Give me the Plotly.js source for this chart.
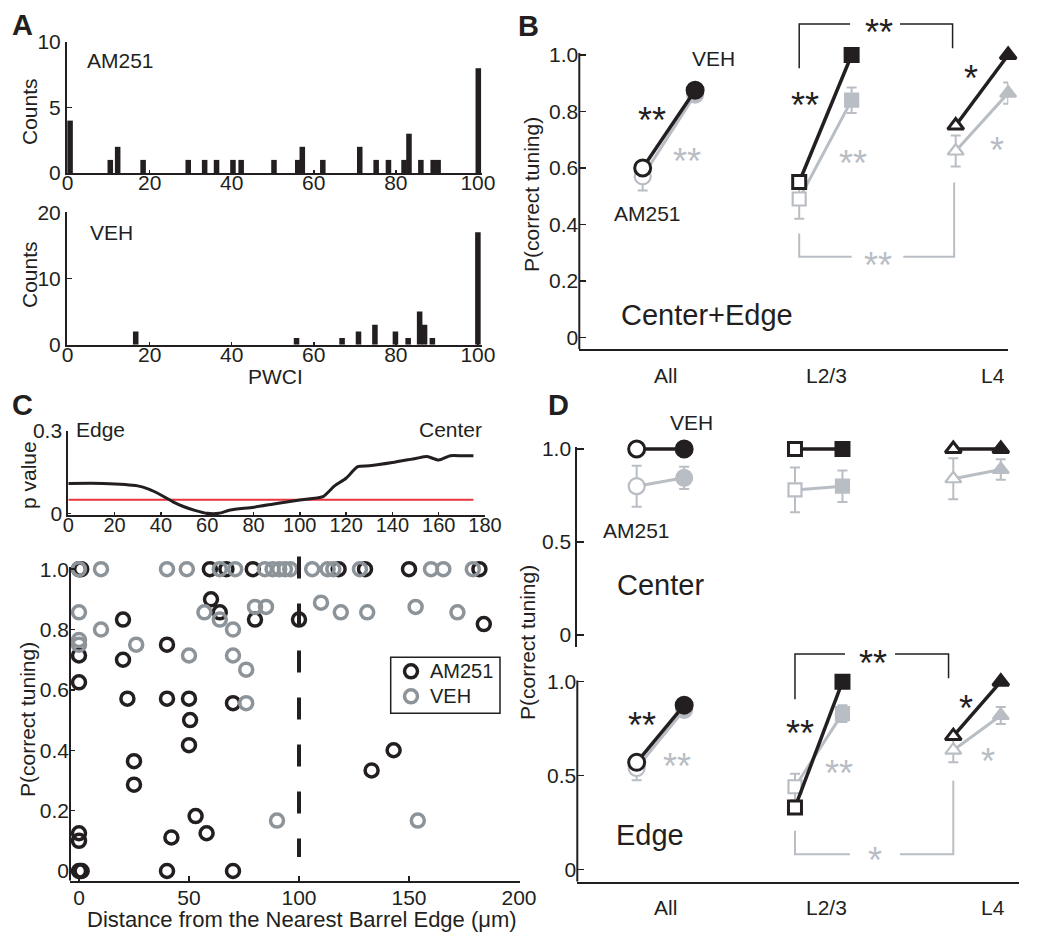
<!DOCTYPE html>
<html><head><meta charset="utf-8">
<script src="https://cdn.plot.ly/plotly-3.0.1.min.js"></script>
<style>html,body{margin:0;padding:0;background:#fff}#chart{width:1050px;height:938px}</style>
</head><body><div id="chart"></div>
<script>
// ---------------- DATA ----------------
// Panel A : PWCI histograms
const pwciAM251   = [0.6, 10.4, 12.2, 18.4, 29.4, 33.4, 36.3, 40.3, 42.3, 50.3, 56.1, 57.2, 62.2, 71.2, 75.2, 78.2, 82.0, 83.2, 86.1, 89.1, 90.3, 100.1];
const countsAM251 = [4,   1,    2,    1,    1,    1,    1,    1,    1,    1,    1,    2,    1,    2,    1,    1,    1,    3,    1,    1,    1,    8];
const pwciVEH     = [16.6, 55.8, 66.9, 70.9, 74.9, 79.9, 83.0, 85.8, 87.0, 88.9, 100.0];
const countsVEH   = [2,    1,    1,    2,    3,    2,    1,    5,    3,    1,    17];
const pwciTicks   = [0, 20, 40, 60, 80, 100];

// Panel B : Center+Edge
const layers        = ['All', 'L2/3', 'L4'];
const bBlackAM251   = [0.60, 0.55, 0.75];
const bBlackVEH     = [0.875, 1.0, 1.0];
const bGrayAM251    = [0.57, 0.49, 0.66];
const bGrayAM251Err = [0.05, 0.07, 0.055];
const bGrayVEH      = [0.86, 0.84, 0.865];
const bGrayVEHErr   = [0.02, 0.045, 0.038];

// Panel C (top) : p value vs distance
const pDist  = [0, 15, 30, 35, 40, 45, 50, 55, 60, 65, 70, 80, 90, 100, 110, 115, 120, 125, 130, 140, 150, 155, 160, 165, 170, 175];
const pValue = [0.109, 0.109, 0.100, 0.087, 0.067, 0.043, 0.024, 0.010, 0.0, 0.0, 0.012, 0.022, 0.036, 0.049, 0.061, 0.100, 0.128, 0.170, 0.173, 0.185, 0.200, 0.207, 0.194, 0.210, 0.210, 0.210];
const ALPHA  = 0.05;

// Panel C (bottom) : P(correct tuning) vs distance
const distAM251 = [0, 1, 59.5, 67, 79, 118, 130, 150, 182, 60, 64, 80, 100, 20, 184, 40, 20, 0, 0, 22, 40, 50, 70, 50.5, 50, 25, 25, 143, 133, 53, 0, 0, 42, 58, 0, 0.6, 1.2, 40, 70];
const pcAM251   = [1, 1, 1, 1, 1, 1, 1, 1, 1, 0.9, 0.857, 0.833, 0.833, 0.833, 0.818, 0.75, 0.7, 0.714, 0.625, 0.571, 0.571, 0.571, 0.556, 0.5, 0.417, 0.364, 0.286, 0.4, 0.333, 0.182, 0.125, 0.1, 0.111, 0.125, 0, 0, 0, 0, 0];
const distVEH   = [0, 10, 40, 49, 64, 71, 84.5, 88, 91, 93.6, 96, 106, 113, 115.6, 127.7, 160, 165.6, 179, 0, 10, 0, 0, 26, 50, 57, 64, 70, 70, 76, 76, 80, 85, 90, 110, 119, 131, 153, 172, 154];
const pcVEH     = [1, 1, 1, 1, 1, 1, 1, 1, 1, 1, 1, 1, 1, 1, 1, 1, 1, 1, 0.857, 0.8, 0.75, 0.765, 0.75, 0.714, 0.857, 0.833, 0.8, 0.714, 0.667, 0.556, 0.875, 0.875, 0.167, 0.889, 0.857, 0.857, 0.875, 0.857, 0.167];
const groupNames = ['AM251', 'VEH'];
const BARREL_EDGE_LIMIT = 100;

// Panel D : Center
const cBlackAM251   = [1.0, 1.0, 1.0];
const cBlackVEH     = [1.0, 1.0, 1.0];
const cGrayAM251    = [0.80, 0.78, 0.84];
const cGrayAM251Err = [0.11, 0.12, 0.11];
const cGrayVEH      = [0.845, 0.80, 0.89];
const cGrayVEHErr   = [0.06, 0.085, 0.055];
// Panel D : Edge
const eBlackAM251   = [0.57, 0.33, 0.71];
const eBlackVEH     = [0.875, 1.0, 1.0];
const eGrayAM251    = [0.54, 0.44, 0.635];
const eGrayAM251Err = [0.065, 0.07, 0.065];
const eGrayVEH      = [0.85, 0.83, 0.82];
const eGrayVEHErr   = [0.03, 0.045, 0.045];

// ---------------- STYLE / LAYOUT HELPERS ----------------
const W = 1050, H = 938;
const FONT = 'Liberation Sans, Arial, Helvetica, sans-serif';
const INK = '#231f20';
const GRAY = '#b9bdc4';
const GRAY_C = '#8d9499';
const SYMBOLS = ['circle', 'square', 'triangle-up'];
const SIZES = [16, 13, 14];
const OFF_B = 0.335, OFF_D = 0.30;

const px = x => x / W, py = y => 1 - y / H;
const domX = (a, b) => [px(a), px(b)];
const domY = (bottom, top) => [py(bottom), py(top)];

function axis(domain, range, extra) {
  return Object.assign({domain, range, showgrid: false, zeroline: false, showline: true,
    linecolor: INK, linewidth: 2, ticks: 'inside', ticklen: 5, tickwidth: 1.5, tickcolor: INK,
    tickfont: {family: FONT, size: 21, color: INK}, fixedrange: true}, extra);
}
const noTicksX = {showticklabels: false, ticks: ''};

const traces = [];
// Panel A bars
traces.push({type: 'bar', x: pwciAM251, y: countsAM251, width: 1.35, marker: {color: INK}, xaxis: 'x', yaxis: 'y', hoverinfo: 'skip'});
traces.push({type: 'bar', x: pwciVEH, y: countsVEH, width: 1.35, marker: {color: INK}, xaxis: 'x2', yaxis: 'y2', hoverinfo: 'skip'});

// Paired plots (B, D)
function pairs(xa, ya, off, grayA, grayAErr, grayV, grayVErr, blackA, blackV) {
  for (let g = 0; g < 3; g++) {
    traces.push({type: 'scatter', mode: 'lines+markers', xaxis: xa, yaxis: ya, x: [g, g + off], y: [grayA[g], grayV[g]],
      error_y: {type: 'data', array: [grayAErr[g], grayVErr[g]], color: GRAY, thickness: 2, width: 5},
      line: {color: GRAY, width: 3}, marker: {symbol: SYMBOLS[g], size: SIZES[g], color: ['#ffffff', GRAY], line: {color: GRAY, width: 2.2}},
      cliponaxis: false, hoverinfo: 'skip'});
  }
  for (let g = 0; g < 3; g++) {
    traces.push({type: 'scatter', mode: 'lines+markers', xaxis: xa, yaxis: ya, x: [g, g + off], y: [blackA[g], blackV[g]],
      line: {color: INK, width: 3.5}, marker: {symbol: SYMBOLS[g], size: SIZES[g], color: ['#ffffff', INK], line: {color: INK, width: 3}},
      cliponaxis: false, hoverinfo: 'skip'});
  }
}
pairs('x3', 'y3', OFF_B, bGrayAM251, bGrayAM251Err, bGrayVEH, bGrayVEHErr, bBlackAM251, bBlackVEH);
pairs('x6', 'y6', OFF_D, cGrayAM251, cGrayAM251Err, cGrayVEH, cGrayVEHErr, cBlackAM251, cBlackVEH);
pairs('x7', 'y7', OFF_D, eGrayAM251, eGrayAM251Err, eGrayVEH, eGrayVEHErr, eBlackAM251, eBlackVEH);

// Panel C top
traces.push({type: 'scatter', mode: 'lines', xaxis: 'x4', yaxis: 'y4', x: [pDist[0], pDist[pDist.length - 1]], y: [ALPHA, ALPHA],
  line: {color: '#e8343c', width: 2}, hoverinfo: 'skip'});
traces.push({type: 'scatter', mode: 'lines', xaxis: 'x4', yaxis: 'y4', x: pDist, y: pValue,
  line: {color: INK, width: 3, shape: 'spline', smoothing: 0.6}, hoverinfo: 'skip'});

// Panel C bottom
const scColors = [INK, GRAY_C];
traces.push({type: 'scatter', mode: 'markers', name: groupNames[0], xaxis: 'x5', yaxis: 'y5', x: distAM251, y: pcAM251,
  marker: {symbol: 'circle-open', size: 13, color: scColors[0], line: {color: scColors[0], width: 3.5}}, cliponaxis: false, hoverinfo: 'skip'});
traces.push({type: 'scatter', mode: 'markers', name: groupNames[1], xaxis: 'x5', yaxis: 'y5', x: distVEH, y: pcVEH,
  marker: {symbol: 'circle-open', size: 13, color: scColors[1], line: {color: scColors[1], width: 3.5}}, cliponaxis: false, hoverinfo: 'skip'});

// Axes
const RB = [-0.405, 2.336], YB = [-0.0425, 1.124];
const RD = [-0.375, 2.415], YDC = [-0.063, 1.0108], YDE = [-0.0661, 1.169];
const YC = [-0.0322, 1.047];
const tick02 = [0, 0.2, 0.4, 0.6, 0.8, 1.0], tick02t = ['0', '0.2', '0.4', '0.6', '0.8', '1.0'];

const layout = {
  width: W, height: H, margin: {l: 0, r: 0, t: 0, b: 0}, paper_bgcolor: '#fff', plot_bgcolor: 'rgba(0,0,0,0)',
  font: {family: FONT, color: INK}, showlegend: false,
  xaxis:  axis(domX(67, 482), [-0.15, 101], {anchor: 'y', tickvals: pwciTicks, ticklen: 3, ticklabelstandoff: -10}),
  yaxis:  axis(domY(173, 42), [0, 10], {anchor: 'x', tickvals: [0, 5, 10]}),
  xaxis2: axis(domX(67, 482), [-0.15, 101], {anchor: 'y2', tickvals: pwciTicks, ticklen: 3, ticklabelstandoff: -10}),
  yaxis2: axis(domY(344.7, 212.3), [0, 20], {anchor: 'x2', tickvals: [0, 10, 20]}),
  xaxis3: axis(domX(579.3, 1008.3), RB, Object.assign({anchor: 'y3'}, noTicksX)),
  yaxis3: axis(domY(349.3, 20), YB, {anchor: 'x3', showline: false, tickvals: tick02, ticktext: tick02t, ticklen: 7}),
  xaxis4: axis(domX(68.3, 485), [0, 180], {anchor: 'y4', tickvals: [0, 20, 40, 60, 80, 100, 120, 140, 160, 180], ticklen: 3, ticklabelstandoff: -9, tickfont: {family: FONT, size: 20, color: INK}}),
  yaxis4: axis(domY(515, 431), [-0.006, 0.3], {anchor: 'x4', tickvals: [0, 0.3], ticktext: ['0', '0.3'], ticklen: 3}),
  xaxis5: axis(domX(70, 520), [-4.09, 200.45], {anchor: 'y5', tickvals: [0, 50, 100, 150, 200], ticklabelstandoff: -3}),
  yaxis5: axis(domY(880.7, 555), YC, {anchor: 'x5', showline: false, tickvals: tick02, ticktext: tick02t}),
  xaxis6: axis(domX(577.3, 1019), RD, Object.assign({anchor: 'y6', showline: false}, noTicksX)),
  yaxis6: axis(domY(646.7, 447), YDC, {anchor: 'x6', tickvals: [0, 0.5, 1], ticktext: ['0', '0.5', '1.0'], ticklen: 7}),
  xaxis7: axis(domX(577.3, 1019), RD, Object.assign({anchor: 'y7'}, noTicksX)),
  yaxis7: axis(domY(881.7, 650), YDE, {anchor: 'x7', showline: false, tickvals: [0, 0.5, 1], ticktext: ['0', '0.5', '1.0'], ticklen: 7}),
  shapes: [], annotations: []
};

// y-axis lines that stop at 1.0
function yLine(xa, ya, y0) {
  layout.shapes.push({type: 'line', xref: xa + ' domain', yref: ya, x0: 0, x1: 0, y0: y0, y1: 1.007, line: {color: INK, width: 2}});
}
yLine('x3', 'y3', YB[0]); yLine('x5', 'y5', YC[0]); yLine('x7', 'y7', YDE[0]);

// barrel-edge boundary
layout.shapes.push({type: 'line', xref: 'x5', yref: 'y5', x0: BARREL_EDGE_LIMIT, x1: BARREL_EDGE_LIMIT, y0: 1.042, y1: 0.046,
  line: {color: INK, width: 4, dash: '22px,25px'}});

// significance brackets
function bracket(xa, ya, xl, xr, yl, yr, ytop, gl, gr, color, width) {
  const line = {color, width};
  layout.shapes.push({type: 'path', xref: xa, yref: ya, path: `M ${xl},${yl} L ${xl},${ytop} L ${gl},${ytop}`, line});
  layout.shapes.push({type: 'path', xref: xa, yref: ya, path: `M ${gr},${ytop} L ${xr},${ytop} L ${xr},${yr}`, line});
}
bracket('x3', 'y3', 1, 1.98, 0.953, 1.024, 1.11, 1.325, 1.644, INK, 1.5);
bracket('x3', 'y3', 1, 1.99, 0.368, 0.548, 0.2855, 1.335, 1.665, GRAY, 2);
bracket('x7', 'y7', 1, 1.97, 0.906, 1.018, 1.148, 1.316, 1.632, INK, 1.5);
bracket('x7', 'y7', 1, 2.0, 0.206, 0.472, 0.08, 1.347, 1.663, GRAY, 2);

// text
function txt(x, y, text, opt) {
  return Object.assign({xref: 'paper', yref: 'paper', x: px(x), y: py(y), text, showarrow: false, xanchor: 'center', yanchor: 'middle',
    font: {family: FONT, size: 21, color: INK}}, opt || {});
}
const STAR = 36;
function star(x, y, text, color) {
  return txt(x, y, text, {font: {family: FONT, size: STAR, color}, yshift: -0.24 * STAR});
}
const A = layout.annotations;

// legend for panel C (box, ring glyphs, labels)
layout.shapes.push({type: 'rect', xref: 'paper', yref: 'paper', x0: px(390.7), x1: px(500), y0: py(713.3), y1: py(657.3),
  line: {color: INK, width: 1.5}, fillcolor: '#ffffff'});
groupNames.forEach((name, i) => {
  const yy = 671.3 + 25 * i;
  layout.shapes.push({type: 'circle', xref: 'paper', yref: 'paper', xsizemode: 'pixel', ysizemode: 'pixel',
    xanchor: px(411), yanchor: py(yy), x0: -6.5, x1: 6.5, y0: -6.5, y1: 6.5, line: {color: scColors[i], width: 3.5}});
  A.push(txt(428, yy, name, {xanchor: 'left', font: {family: FONT, size: 20, color: INK}}));
});

// panel letters
A.push(txt(22, 25, '<b>A</b>', {font: {family: FONT, size: 29, color: INK}}));
A.push(txt(528, 26, '<b>B</b>', {font: {family: FONT, size: 29, color: INK}}));
A.push(txt(22, 405, '<b>C</b>', {font: {family: FONT, size: 29, color: INK}}));
A.push(txt(558, 405, '<b>D</b>', {font: {family: FONT, size: 29, color: INK}}));
// panel A
A.push(txt(120, 60, 'AM251'));
A.push(txt(111, 232, 'VEH'));
A.push(txt(29, 112, 'Counts', {textangle: -90}));
A.push(txt(29, 275, 'Counts', {textangle: -90}));
A.push(txt(275, 376, 'PWCI'));
// panel B
A.push(txt(713, 58, 'VEH'));
A.push(txt(647, 213, 'AM251'));
A.push(txt(707, 315, 'Center+Edge', {font: {family: FONT, size: 29, color: INK}}));
A.push(txt(532, 195, 'P(correct tuning)', {textangle: -90}));
[665.7, 826.7, 993].forEach((x, i) => A.push(txt(x, 375, layers[i])));
A.push(star(652, 112, '**', INK));
A.push(star(687, 153, '**', GRAY));
A.push(star(805, 97, '**', INK));
A.push(star(853, 155, '**', GRAY));
A.push(star(971, 70, '*', INK));
A.push(star(997, 142, '*', GRAY));
A.push(star(879, 24, '**', INK));
A.push(star(878, 257, '**', GRAY));
// panel C
A.push(txt(100, 429, 'Edge'));
A.push(txt(450, 429, 'Center'));
A.push(txt(28, 475, 'p value', {textangle: -90}));
A.push(txt(27, 720, 'P(correct tuning)', {textangle: -90}));
A.push(txt(302, 919, 'Distance from the Nearest Barrel Edge (μm)', {font: {family: FONT, size: 22, color: INK}}));
// panel D
A.push(txt(691, 422, 'VEH'));
A.push(txt(636, 530, 'AM251'));
A.push(txt(660, 585, 'Center', {font: {family: FONT, size: 29, color: INK}}));
A.push(txt(650, 835, 'Edge', {font: {family: FONT, size: 29, color: INK}}));
A.push(txt(527, 643, 'P(correct tuning)', {textangle: -90}));
[665.7, 826, 993.3].forEach((x, i) => A.push(txt(x, 907, layers[i])));
A.push(star(642, 717, '**', INK));
A.push(star(677, 758, '**', GRAY));
A.push(star(800, 725, '**', INK));
A.push(star(839, 765, '**', GRAY));
A.push(star(966, 700, '*', INK));
A.push(star(988, 753, '*', GRAY));
A.push(star(873, 655, '**', INK));
A.push(star(875, 852, '*', GRAY));

Plotly.newPlot('chart', traces, layout, {staticPlot: true, displayModeBar: false});
</script>
</body></html>
